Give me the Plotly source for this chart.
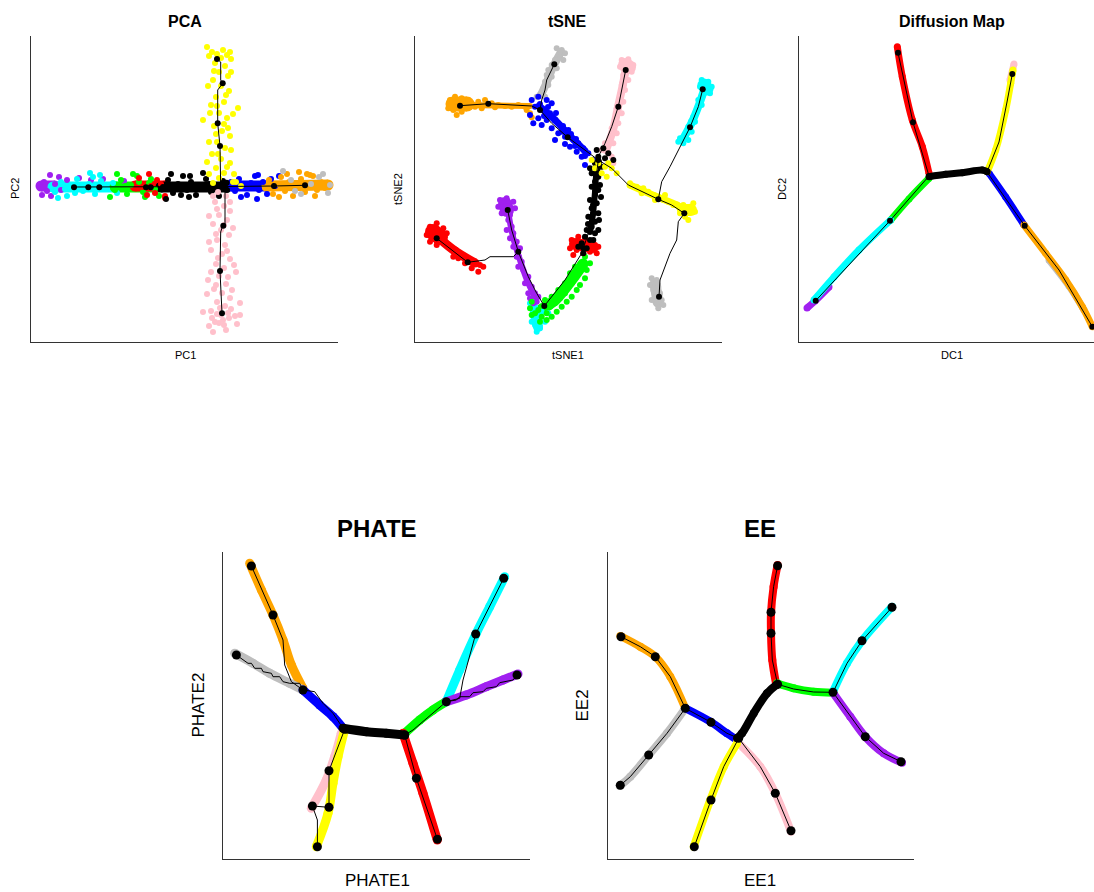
import plotly.graph_objects as go

# Branch colours (R-style named colours)
COL = {
    "purple": "#A020F0", "cyan": "#00FFFF", "green": "#00FF00", "red": "#FF0000",
    "black": "#000000", "yellow": "#FFFF00", "blue": "#0000FF", "orange": "#FFA500",
    "gray": "#BEBEBE", "pink": "#FFC0CB",
}

# ---------------- PCA ----------------
pca_cells = {
    "purple": [(11, 147), (13, 160), (16, 151), (19, 167), (24, 158), (28, 165), (20, 146), (36, 162),
               (48, 164), (60, 162), (72, 163), (93, 161), (30, 152)],
    "cyan": [(24, 150), (30, 160), (36, 146), (40, 157), (46, 163), (52, 151), (58, 158), (64, 148),
             (70, 161), (76, 153), (82, 159), (86, 149), (34, 153), (44, 149), (62, 165), (66, 156),
             (59, 169), (69, 167), (27, 144)],
    "green": [(84, 152), (90, 162), (96, 148), (100, 157), (106, 166), (112, 150), (118, 159), (124, 153),
              (128, 146), (108, 160), (94, 156), (114, 145), (102, 168), (120, 163), (86, 168), (79, 145)],
    "red": [(108, 164), (112, 155), (118, 168), (124, 149), (130, 158), (134, 146), (126, 162), (116, 147),
            (120, 156), (134, 144)],
    "black": [(132, 155), (137, 162), (142, 149), (147, 158), (152, 166), (156, 152), (160, 160), (165, 147),
              (170, 157), (175, 163), (180, 150), (184, 156), (188, 146), (192, 161), (196, 152), (140, 168),
              (158, 145), (172, 169), (150, 147), (178, 158), (159, 166), (135, 143)],
    "yellow": [(176, 295), (181, 290), (186, 288), (192, 292), (196, 287), (200, 283), (184, 279), (194, 276),
               (188, 270), (197, 266), (182, 262), (190, 256), (198, 251), (185, 245), (193, 240), (207, 234),
               (180, 237), (188, 229), (196, 224), (172, 222), (183, 216), (191, 211), (199, 206), (186, 200),
               (194, 194), (181, 188), (190, 183), (199, 179), (185, 174), (193, 169), (188, 164), (178, 168),
               (202, 160), (210, 156), (205, 160), (178, 286), (190, 284), (199, 290), (183, 271), (200, 270),
               (177, 256), (195, 247), (186, 236), (202, 228), (179, 229), (193, 218), (185, 208), (197, 214),
               (178, 200), (200, 192), (187, 188), (176, 180), (196, 175), (203, 168), (182, 159)],
    "pink": [(187, 150), (195, 146), (184, 140), (193, 136), (199, 131), (188, 127), (196, 122), (182, 118),
             (190, 112), (198, 107), (186, 102), (194, 97), (180, 92), (191, 88), (199, 83), (185, 78),
             (193, 74), (205, 70), (188, 66), (177, 62), (195, 58), (183, 53), (191, 49), (199, 44), (186, 40),
             (194, 36), (180, 31), (190, 27), (198, 24), (184, 20), (193, 17), (204, 26), (182, 10), (172, 30),
             (209, 27), (209, 39), (182, 146), (199, 140), (186, 133), (178, 126), (193, 117), (202, 114),
             (185, 108), (178, 100), (196, 91), (187, 84), (203, 77), (180, 70), (197, 65), (185, 57),
             (176, 48), (201, 52), (189, 34), (200, 33), (181, 24), (195, 12), (188, 19), (206, 18), (178, 16),
             (192, 22), (186, 28), (197, 29)],
    "blue": [(200, 160), (204, 151), (208, 163), (212, 154), (216, 147), (220, 159), (224, 166), (228, 152),
             (232, 160), (236, 148), (210, 145), (226, 143), (240, 163), (244, 156), (248, 166), (227, 167)],
    "orange": [(234, 154), (238, 162), (242, 148), (246, 158), (250, 165), (254, 151), (258, 160), (262, 146),
               (266, 156), (270, 163), (274, 150), (278, 159), (282, 166), (286, 152), (290, 160), (294, 154),
               (297, 158), (256, 168), (284, 146), (268, 170), (248, 145), (276, 168), (279, 167)],
    "gray": [(252, 171), (260, 162), (270, 148), (280, 158), (288, 165), (297, 149), (299, 157), (264, 151),
             (292, 168)],
}
pca_core = {
    "purple": [(10, 156), (24, 156)], "cyan": [(22, 155), (86, 155)], "green": [(84, 155), (128, 155)],
    "red": [(104, 156), (134, 156)], "black": [(130, 155), (196, 155)], "blue": [(200, 156), (236, 156)],
    "orange": [(236, 156), (297, 157)],
}
pca_paths = [
    [(43, 155), (115, 155), (194, 155.5), (243, 156), (274, 156.7)],
    [(186, 283), (189.7, 280), (189.7, 262), (191.7, 258.7), (186.7, 252), (186.7, 218.7), (189, 196), (189.7, 155)],
    [(194, 155), (194, 118), (191.7, 116.3), (189.7, 110), (189, 71), (191, 28.7)],
]
pca_nodes = [(43, 154.7), (57.3, 154.7), (68.3, 154.7), (115, 154.7), (119.7, 154.7), (194, 155.3), (195.7, 159.3),
             (243, 156), (274, 156.7), (186, 283), (191.7, 258.7), (186.7, 218.7), (189, 196), (192.3, 116.3),
             (189, 71), (191, 28.7)]

# ---------------- tSNE ----------------
tsne_cells = {
    "gray": [(141.7, 293.7), (146.7, 292), (150, 288.7), (145, 285.3), (140, 282), (148.3, 282), (136.7, 277),
             (141.7, 273.7), (133.3, 272), (131.7, 267), (136.7, 265.3), (130, 260.3), (133.3, 257),
             (128.3, 253.7), (125, 247), (130, 245.3), (121.7, 245.3),
             (236.7, 63.7), (241.7, 62), (235, 57), (243.3, 55.3), (238.3, 52), (245, 48.7), (240, 45.3),
             (246.7, 42), (241.7, 38.7), (248.3, 37), (243.3, 33.7), (236.7, 42)],
    "orange": [(35, 242), (40, 245.3), (46.7, 243.7), (53.3, 242), (36.7, 237), (43.3, 235.3), (50, 236),
               (56.7, 238.7), (38.3, 232), (46.7, 230.3), (41.7, 227), (33.3, 233.7), (60, 235.3), (63.3, 240.3),
               (70, 242), (76.7, 238.7), (83.3, 237), (90, 236), (96.7, 235.3), (103.3, 237), (110, 235.3),
               (66.7, 233.7), (80, 234.7), (115, 228.7), (111.7, 232), (116.7, 224.7)],
    "blue": [(116.7, 242), (123.3, 245.3), (131.7, 242), (136.7, 238.7), (120, 235.3), (128.3, 232), (135, 228.7),
             (115, 227), (123.3, 223.7), (131.7, 222), (138.3, 223.7), (143.3, 218.7), (136.7, 213.7),
             (146.7, 210.3), (153.3, 212), (150, 205.3), (158.3, 202), (143.3, 208.7), (163.3, 198.7),
             (155, 195.3), (168.3, 193.7), (161.7, 190.3), (173.3, 188.7), (166.7, 185.3), (170, 177),
             (178.3, 182), (126.7, 217), (118.3, 218.7), (140, 202), (125, 238), (133, 235), (141, 229),
             (129, 226), (148, 216), (156, 208), (161, 203), (150, 198), (160, 196), (170, 186)],
    "pink": [(206.7, 282), (213.3, 282.7), (218.3, 277), (205, 275.3), (211.7, 273.7), (216.7, 270.3),
             (208.3, 267), (213.3, 262), (206.7, 257), (210, 252), (205, 245.3), (208.3, 240.3), (201.7, 233.7),
             (206.7, 228.7), (200, 223.7), (203.3, 218.7), (196.7, 213.7), (201.7, 208.7), (195, 203.7),
             (190, 198.7), (198.3, 198.7), (186.7, 192), (193.3, 188.7), (196.7, 185.3), (191.7, 177),
             (198.3, 178.7)],
    "cyan": [(286.7, 262), (293.3, 260.3), (296.7, 255.3), (285, 255.3), (291.7, 252), (288.3, 247), (295, 248.7),
             (283.3, 242), (286.7, 237), (281.7, 230.3), (278.3, 225.3), (280, 220.3), (273.3, 215.3),
             (276.7, 210.3), (270, 207), (273.3, 202), (265, 203.7), (268.3, 198.7), (263.3, 200.3),
             (115, 38.7), (120, 35.3), (126.7, 30.3), (133.3, 28.7), (118.3, 25.3), (123.3, 22), (130, 20.3),
             (120, 17), (125, 13.7), (121.7, 10.3), (116.7, 20.3)],
    "black": [(181.7, 192), (188.3, 193.7), (193.3, 188.7), (183.3, 185.3), (190, 183.7), (198.3, 182),
              (180, 178.7), (186.7, 175.3), (176.7, 168.7), (183.3, 165.3), (180, 160.3), (176.7, 155.3),
              (183.3, 152), (180, 147), (175, 142), (181.7, 138.7), (176.7, 133.7), (183.3, 128.7),
              (173.3, 125.3), (180, 120.3), (176.7, 115.3), (171.7, 112), (180, 108.7), (170, 105.3), (175, 102),
              (166.7, 98.7), (171.7, 93.7), (163.3, 95.3), (168.3, 88.7), (178.3, 102), (183.3, 112),
              (181.7, 168.7), (175, 173.7), (185, 157), (178, 137), (186, 145), (173, 118), (184, 122)],
    "yellow": [(176.7, 182), (183.3, 178.7), (190, 175.3), (196.7, 173.7), (201.7, 168.7), (191.7, 165.3),
               (180, 173.7), (186.7, 168.7), (193.3, 178.7),
               (215, 158.7), (221.7, 155.3), (228.3, 153.7), (233.3, 150.3), (238.3, 147), (243.3, 145.3),
               (248.3, 142), (253.3, 140.3), (258.3, 137), (263.3, 135.3), (268.3, 137), (275, 135.3),
               (280, 130.3), (270, 125.3), (265, 128.7), (273.3, 122), (278.3, 138.7), (226.7, 148.7),
               (240, 142), (250, 147)],
    "red": [(156.7, 102), (163.3, 105.3), (170, 103.7), (176.7, 100.3), (183.3, 95.3), (155, 93.7), (161.7, 92),
            (168.3, 88.7), (175, 90.3), (181.7, 88.7), (165, 98.7), (158.3, 87),
            (15, 115.3), (21.7, 118.7), (28.3, 113.7), (11.7, 107), (18.3, 108.7), (25, 105.3), (31.7, 108.7),
            (15, 100.3), (21.7, 97), (30, 98.7), (35, 93.7), (40, 92), (45, 88.7), (38.3, 85.3), (50, 85.3),
            (55, 82), (60, 78.7), (65, 77), (56.7, 73.7), (63.3, 70.3), (68.3, 75.3), (50, 78.7), (43.3, 83.7)],
    "purple": [(85, 142), (91.7, 143.7), (98.3, 140.3), (83.3, 135.3), (90, 135.3), (100, 133.7), (86.7, 128.7),
               (95, 127), (93.3, 122), (96.7, 115.3), (91.7, 112), (98.3, 108.7), (95, 103.7), (101.7, 100.3),
               (98.3, 95.3), (105, 93.7), (101.7, 85.3), (106.7, 80.3), (103.3, 75.3), (108.3, 72),
               (113.3, 65.3), (110, 58.7), (116.7, 55.3), (120, 48.7), (115, 43.7), (123.3, 45.3), (113.3, 48.7),
               (121.7, 40.3), (118.3, 38.7)],
    "green": [(170, 85.3), (175, 78.7), (166.7, 75.3), (171.7, 72), (163.3, 68.7), (170, 63.7), (158.3, 62),
              (165, 57), (153.3, 55.3), (161.7, 52), (150, 48.7), (156.7, 45.3), (145, 43.7), (151.7, 40.3),
              (140, 38.7), (146.7, 35.3), (135, 35.3), (141.7, 30.3), (131.7, 28.7), (136.7, 25.3),
              (126.7, 25.3), (120, 28.7), (115, 33.7), (123.3, 32), (116.7, 40.3), (130, 42), (136.7, 45.3),
              (143.3, 52), (150, 58.7), (155, 68.7), (160, 75.3), (131.7, 22), (125, 20.3), (116.7, 27)],
}
# dense cores of the tSNE clusters: (colour, centre line, core width)
tsne_cores = [
    ("gray", [(146, 290), (138, 275), (131, 258), (126, 247)], 8),
    ("gray", [(240, 58), (243, 40)], 11),
    ("orange", [(38, 238), (52, 238)], 15),
    ("orange", [(52, 237), (115, 236)], 6),
    ("blue", [(124, 236), (140, 222), (155, 206), (170, 191)], 7),
    ("pink", [(210, 277), (214, 275)], 14),
    ("pink", [(211, 274), (208, 258), (203, 235), (198, 212), (191, 192)], 8),
    ("cyan", [(289, 257), (292, 253)], 13),
    ("cyan", [(290, 255), (285, 240), (277, 220), (268, 203)], 8),
    ("cyan", [(120, 30), (123, 15)], 10),
    ("purple", [(90, 138), (92, 132)], 14),
    ("purple", [(94, 125), (98, 105), (104, 85), (112, 62), (120, 45)], 6),
    ("green", [(127, 33), (140, 42), (155, 60), (168, 78)], 11),
    ("red", [(18, 110), (25, 105)], 16),
    ("red", [(25, 103), (40, 91), (60, 79)], 9),
    ("red", [(160, 98), (178, 95)], 12),
    ("black", [(184, 180), (181, 165), (180, 150), (178, 128), (175, 110)], 6),
    ("yellow", [(215, 157), (240, 146), (262, 137), (270, 132)], 7),
    ("yellow", [(268, 132), (276, 132)], 12),
]
tsne_paths = [
    [(21.7, 103.7), (52.7, 79.7), (70, 82), (75, 85.3), (98.3, 85.3), (103.3, 90.3)],
    [(92.7, 132), (96.7, 112), (103.3, 90.3), (113.3, 65.3), (121.7, 48.7), (129.3, 36)],
    [(129.3, 36), (150, 62), (166.7, 88.7), (168.3, 93.7), (173.3, 108.7), (176.7, 128.7), (180, 152),
     (181.7, 168.7), (183.3, 182)],
    [(183.3, 182), (170, 192), (152.7, 204.7), (136.7, 218.7), (125, 232), (126.7, 242), (130, 252),
     (131.7, 262), (139.3, 277.7)],
    [(45, 236.3), (73.3, 238.3), (116.7, 236), (125, 232)],
    [(183.3, 185.3), (190, 198.7), (196.7, 215.3), (203.3, 235.3), (206.7, 252), (210.7, 272)],
    [(183.3, 182), (196.7, 173.7), (213.3, 157), (226.7, 150.3), (243.3, 142.7), (256.7, 137), (269.3, 128.7),
     (263.3, 120.3), (261.7, 102), (255, 88.7), (250, 75.3), (245, 62), (244, 45.3)],
    [(243.3, 142.7), (246.7, 160.3), (255, 175.3), (263.3, 192), (275, 214.7), (283.3, 235.3), (287.7, 252.7)],
]
tsne_nodes = [(21.7, 103.7), (52.7, 79.7), (92.7, 132), (103.3, 90.3), (129.3, 36), (168.3, 93.7), (45, 236.3),
              (73.3, 238.3), (125, 232), (139.3, 277.7), (152.7, 204.7), (210.7, 272), (203.3, 235.3),
              (287.7, 252.7), (275, 214.7), (243.3, 142.7), (269.3, 128.7), (244, 45.3), (183.3, 182)]

# ---------------- Diffusion map ----------------
dm_branches = {
    "red": [(98.3, 295.3), (103.3, 265.3), (113.3, 222), (123.3, 195.3), (130, 168.7)],
    "green": [(130, 163.7), (110, 143), (91.7, 122)],
    "purple": [(8, 34), (16, 41), (30, 55)],
    "cyan": [(91.7, 122), (60, 92), (35, 65), (15, 42)],
    "blue": [(190, 168.7), (206.7, 145), (225, 117)],
    "gray": [(250, 82), (270, 56), (285, 32)],
    "orange": [(225, 117), (246.7, 88.7), (266.7, 62), (283.3, 35.3), (293.3, 15.3)],
    "pink": [(211, 262), (215, 278)],
    "yellow": [(188.3, 170.3), (196.7, 192), (206.7, 232), (211.7, 258.7), (214, 272)],
    "black": [(130, 165.3), (146.7, 167.7), (163.3, 169.3), (183.3, 172), (188.3, 170.3)],
}
dm_paths = [
    [(99, 289.3), (114, 219.7), (130, 166)],
    [(130, 166), (188, 170)],
    [(188, 170), (200, 200), (208, 240), (213.3, 268)],
    [(188, 170), (225.7, 116.3), (260, 72), (293.3, 15.3)],
    [(130, 166), (91, 121.3), (16.7, 41.3)],
]
dm_nodes = [(99, 289.3), (114, 219.7), (130, 166), (188, 170), (213.3, 268), (91, 121.3), (16.7, 41.3),
            (225.7, 116.3), (293.3, 15.3)]

# ---------------- PHATE ----------------
phate_branches = {
    "orange": [(26.7, 295.7), (38.4, 269), (50, 244), (60, 219), (68.4, 194), (80, 170.7)],
    "gray": [(11.7, 205.7), (30, 195.7), (46.7, 185.7), (66.7, 175.7), (80, 169)],
    "blue": [(80, 169), (96.7, 154), (110, 142.3), (120, 130.7)],
    "black": [(120, 130.7), (143.3, 127.3), (163.3, 125.7), (181.7, 124)],
    "green": [(181.7, 125.7), (196.7, 139), (210, 149), (223.3, 157.3)],
    "cyan": [(223.3, 157.3), (236.7, 189), (253.3, 225.7), (266.7, 252.3), (281.7, 282.3)],
    "purple": [(223.3, 157.3), (243.3, 164), (263.3, 172.3), (280, 179), (295, 185)],
    "red": [(180, 125.7), (190, 95.7), (200, 65.7), (214.3, 19)],
    "pink": [(118.3, 125.7), (111.7, 102.3), (103.3, 79), (88.3, 50.7)],
    "yellow": [(121.7, 129.7), (115, 102.3), (110, 75.7), (105, 45.7), (93.3, 12.3)],
}
phate_paths = [
    [(28.4, 293), (50, 244), (60, 219), (61.7, 194), (68.4, 177.3), (80, 169)],
    [(13.4, 204), (25, 195.7), (28.4, 195.7), (31.7, 190.7), (38.4, 190.7), (40, 187.3), (48.4, 185.7),
     (50, 182.3), (56.7, 182.3), (60, 177.3), (66.7, 175.7), (76.7, 175.7), (80, 169)],
    [(80, 169), (91.7, 167.3), (100, 155.7), (110, 145.7), (120, 130.7)],
    [(121.7, 129.7), (181.7, 124)],
    [(181.7, 124), (190, 129), (223.3, 157.3)],
    [(223.3, 157.3), (236.7, 160.7), (240, 179), (252.7, 225), (280.7, 280.7)],
    [(223.3, 157.3), (233.4, 159), (236.7, 162.3), (246.7, 162.3), (250, 166.3), (260, 167.3), (263.4, 170.7),
     (273.4, 172.3), (276.7, 176.3), (290, 179), (294, 184)],
    [(181.7, 124), (193.4, 80.7), (214.4, 19.7)],
    [(121.7, 129.7), (106, 88.3), (106, 51.7), (89.4, 53), (94.4, 39), (94.4, 12.3)],
]
phate_nodes = [(28.4, 293), (50, 244), (13.4, 204), (80, 169), (121.7, 129.7), (181.7, 124), (223.3, 157.3),
               (252.7, 225), (280.7, 280.7), (294, 184), (193.4, 80.7), (214.4, 19.7), (106, 88.3),
               (106, 51.7), (89.4, 53), (94.4, 12.3)]

# ---------------- EE ----------------
ee_branches = {
    "red": [(169.6, 294), (165.6, 272.3), (163, 245.7), (163, 225.7), (164.3, 199), (168.3, 174)],
    "green": [(169, 175.7), (185.7, 170.7), (205.7, 167.3), (225, 166.3)],
    "cyan": [(225, 167.3), (239, 195.7), (254, 218.3), (284, 252.3)],
    "purple": [(225, 166.3), (242.3, 142.3), (257.3, 122.3), (275.7, 105.7), (294, 96.3)],
    "orange": [(12.3, 223), (32.3, 212.3), (47.3, 202.3), (62.3, 182.3), (77.3, 150.7)],
    "gray": [(77.3, 150.7), (59, 125.7), (40.7, 104), (22.3, 82.3), (11.7, 73)],
    "blue": [(77.3, 150.7), (102.3, 137.3), (119, 125.7), (129, 119)],
    "pink": [(129, 117.3), (152.3, 92.3), (167.3, 65.7), (183, 27.3)],
    "yellow": [(129, 115.7), (115.7, 92.3), (102.3, 59), (85.7, 12.3)],
    "black": [(168.3, 174), (159, 165.7), (145.7, 145.7), (134, 125.7), (129, 120.7)],
}
ee_paths = [
    [(169.6, 293.3), (165.6, 272.3), (163, 246.7), (163, 225.7), (164.3, 199), (169.6, 174.7)],
    [(169.6, 174.7), (159, 165.7), (145.7, 145.7), (134, 125.7), (130.7, 120.7)],
    [(169.6, 174.7), (185.7, 170), (205.7, 167), (225, 166.7)],
    [(225, 166.7), (239, 195.7), (254, 218.3), (284, 251.7)],
    [(225, 166.7), (242.3, 142.3), (257.3, 122.3), (275.7, 105.7), (293, 97.3)],
    [(13, 222.3), (32.3, 212.3), (47.3, 202.3), (62.3, 182.3), (77.3, 150.7)],
    [(77.3, 150.7), (59, 125.7), (40.7, 104), (22.3, 82.3), (12.3, 73.7)],
    [(77.3, 150.7), (103, 136.7), (119, 125.7), (130.7, 120.7)],
    [(130.7, 120.7), (115.7, 92.3), (103, 59), (86.3, 12.3)],
    [(130.7, 120.7), (152.3, 92.3), (167.3, 65.7), (183, 28.3)],
]
ee_nodes = [(169.6, 293.3), (163, 246.7), (163, 225.7), (169.6, 174.7), (225, 166.7), (254, 218.3),
            (284, 251.7), (257.3, 122.3), (293, 97.3), (13, 222.3), (47.3, 202.3), (77.3, 150.7), (40.7, 104),
            (12.3, 73.7), (103, 136.7), (130.7, 120.7), (103, 59), (86.3, 12.3), (167.3, 65.7), (183, 28.3)]

# ---------------- layout geometry (pixels) ----------------
W, H = 1094, 892
FONT = "Liberation Sans, Arial, sans-serif"
panels = [
    dict(title="PCA", xl="PC1", yl="PC2", left=31, top=36, bottom=342, right=338, tsize=16, lsize=11,
         tx=185, ylx=15),
    dict(title="tSNE", xl="tSNE1", yl="tSNE2", left=415, top=36, bottom=342, right=722, tsize=16, lsize=11,
         tx=568, ylx=398),
    dict(title="Diffusion Map", xl="DC1", yl="DC2", left=799, top=36, bottom=342, right=1106, tsize=16,
         lsize=11, tx=952, ylx=782),
    dict(title="PHATE", xl="PHATE1", yl="PHATE2", left=223, top=552, bottom=859, right=530, tsize=24,
         lsize=17, tx=377, ylx=198),
    dict(title="EE", xl="EE1", yl="EE2", left=608, top=552, bottom=859, right=914, tsize=24, lsize=17,
         tx=760, ylx=582),
]

fig = go.Figure()


def xs(pts):
    return [p[0] for p in pts]


def ys(pts):
    return [p[1] for p in pts]


def add_band(k, pts, color, width):
    fig.add_trace(go.Scatter(x=xs(pts), y=ys(pts), mode="lines+markers", xaxis=f"x{k}", yaxis=f"y{k}",
                             line=dict(color=color, width=width, shape="spline"),
                             marker=dict(color=color, size=width), hoverinfo="skip"))


def add_cells(k, pts, color, size):
    fig.add_trace(go.Scatter(x=xs(pts), y=ys(pts), mode="markers", xaxis=f"x{k}", yaxis=f"y{k}",
                             marker=dict(color=color, size=size, line=dict(width=0))))


def add_paths(k, paths, nodes, lw, nsize):
    for p in paths:
        fig.add_trace(go.Scatter(x=xs(p), y=ys(p), mode="lines", xaxis=f"x{k}", yaxis=f"y{k}",
                                 line=dict(color="black", width=lw), hoverinfo="skip"))
    fig.add_trace(go.Scatter(x=xs(nodes), y=ys(nodes), mode="markers", xaxis=f"x{k}", yaxis=f"y{k}",
                             marker=dict(color="black", size=nsize)))


# PCA
for c, seg in pca_core.items():
    add_band(1, seg, COL[c], 11)
for c in ["purple", "cyan", "green", "red", "black", "blue", "orange", "gray", "yellow", "pink"]:
    add_cells(1, pca_cells[c], COL[c], 6)
add_paths(1, pca_paths, pca_nodes, 1, 6)

# tSNE
for c, seg, w in tsne_cores:
    add_band(2, seg, COL[c], w)
for c in ["gray", "orange", "blue", "pink", "cyan", "purple", "green", "red", "black", "yellow"]:
    add_cells(2, tsne_cells[c], COL[c], 6)
add_paths(2, tsne_paths, tsne_nodes, 1, 6)

# Diffusion map
for c in ["red", "green", "purple", "cyan", "blue", "gray", "orange", "pink", "yellow", "black"]:
    add_band(3, dm_branches[c], COL[c], 7)
add_paths(3, dm_paths, dm_nodes, 1, 6)

# PHATE
for c in ["orange", "gray", "blue", "green", "cyan", "purple", "red", "pink", "yellow", "black"]:
    add_band(4, phate_branches[c], COL[c], 9)
add_paths(4, phate_paths, phate_nodes, 1, 9)

# EE
for c in ["red", "green", "cyan", "purple", "orange", "gray", "blue", "pink", "yellow", "black"]:
    add_band(5, ee_branches[c], COL[c], 8)
add_paths(5, ee_paths, ee_nodes, 1, 9)

layout = dict(width=W, height=H, margin=dict(l=0, r=0, t=0, b=0), paper_bgcolor="white",
              plot_bgcolor="white", showlegend=False, annotations=[])
for i, p in enumerate(panels, start=1):
    x0 = p["left"] / W
    x1 = min(p["right"] / W, 1.0)
    xr = (min(p["right"], W) - p["left"])
    yr = p["bottom"] - p["top"]
    axis_common = dict(showgrid=False, zeroline=False, showticklabels=False, ticks="", showline=True,
                       linecolor="#333333", linewidth=1, fixedrange=True)
    layout[f"xaxis{i}"] = dict(domain=[x0, x1], range=[0, xr], anchor=f"y{i}", **axis_common)
    layout[f"yaxis{i}"] = dict(domain=[1 - p["bottom"] / H, 1 - p["top"] / H], range=[0, yr],
                               anchor=f"x{i}", **axis_common)
    ty = p["top"] - (15 if p["tsize"] < 20 else 24)
    layout["annotations"].append(dict(text=f"<b>{p['title']}</b>", x=p["tx"] / W, y=1 - ty / H,
                                      xref="paper", yref="paper", showarrow=False, xanchor="center",
                                      yanchor="middle", font=dict(family=FONT, size=p["tsize"], color="black")))
    ly = p["bottom"] + (13 if p["lsize"] < 14 else 21)
    layout["annotations"].append(dict(text=p["xl"], x=p["tx"] / W, y=1 - ly / H, xref="paper", yref="paper",
                                      showarrow=False, xanchor="center", yanchor="middle",
                                      font=dict(family=FONT, size=p["lsize"], color="black")))
    layout["annotations"].append(dict(text=p["yl"], x=p["ylx"] / W, y=1 - (p["top"] + p["bottom"]) / 2 / H,
                                      xref="paper", yref="paper", showarrow=False, xanchor="center",
                                      yanchor="middle", textangle=-90,
                                      font=dict(family=FONT, size=p["lsize"], color="black")))

fig.update_layout(**layout)
fig.write_html("out.html")
